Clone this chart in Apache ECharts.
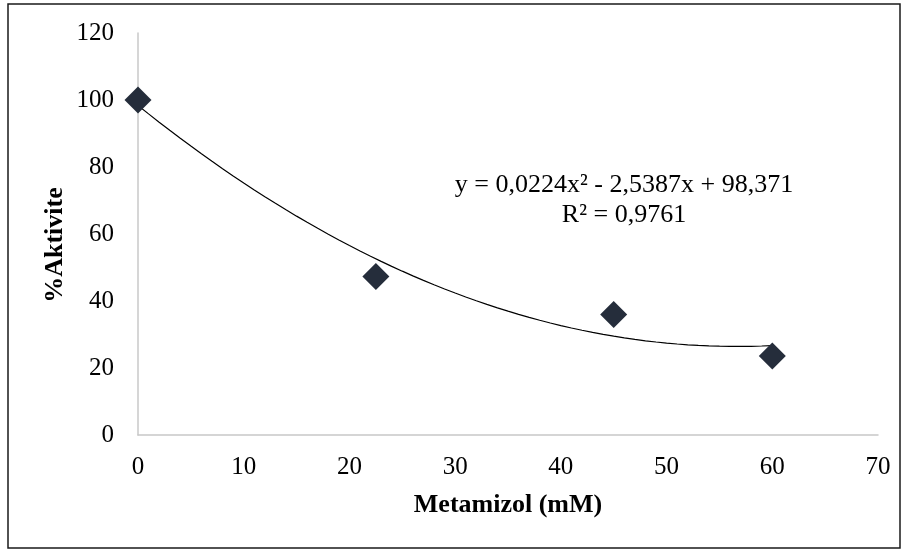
<!DOCTYPE html>
<html>
<head>
<meta charset="utf-8">
<script src="https://cdn.jsdelivr.net/npm/echarts@6/dist/echarts.min.js"></script>
<style>html,body{margin:0;padding:0;background:#fff}#c{width:901px;height:550px}</style>
</head>
<body>
<div id="c"></div>
<script>
const concentrations = [0, 22.5, 45, 60];
const activity = [100, 47.3, 36.0, 23.6];
const trendCoefficients = [0.0224, -2.5387, 98.371]; // a x^2 + b x + c, as printed on the chart
const trendRange = [0, 60];
const equationText = 'y = 0,0224x² - 2,5387x + 98,371';
const r2Text = 'R² = 0,9761';
const xTicks = [0, 10, 20, 30, 40, 50, 60, 70];
const yTicks = [0, 20, 40, 60, 80, 100, 120];

const scatterData = concentrations.map((x, i) => [x, activity[i]]);
const trendData = [];
for (let x = trendRange[0]; x <= trendRange[1]; x += 1) {
  const [a, b, c] = trendCoefficients;
  trendData.push([x, a * x * x + b * x + c]);
}

const font = '"Liberation Serif", "Times New Roman", serif';
const chart = echarts.init(document.getElementById('c'), null, {renderer: 'canvas'});
chart.setOption({
  animation: false,
  backgroundColor: '#fff',
  grid: {left: 138, right: 23, top: 33, bottom: 115, containLabel: false},
  xAxis: {
    type: 'value', min: xTicks[0], max: xTicks[xTicks.length - 1], interval: 10,
    name: 'Metamizol (mM)', nameLocation: 'middle', nameGap: 57,
    nameTextStyle: {fontFamily: font, fontSize: 26, fontWeight: 'bold', color: '#000'},
    axisLine: {show: true, lineStyle: {color: '#c8c8c8', width: 1.5}},
    axisTick: {show: false},
    splitLine: {show: false},
    axisLabel: {fontFamily: font, fontSize: 25, color: '#000', margin: 20}
  },
  yAxis: {
    type: 'value', min: yTicks[0], max: yTicks[yTicks.length - 1], interval: 20,
    axisLine: {show: true, lineStyle: {color: '#c8c8c8', width: 1.5}},
    axisTick: {show: false},
    splitLine: {show: false},
    axisLabel: {fontFamily: font, fontSize: 25, color: '#000', margin: 24}
  },
  graphic: [
    {type: 'rect', shape: {x: 8, y: 4, width: 892, height: 544}, style: {fill: 'none', stroke: '#1a1a1a', lineWidth: 1.5}, silent: true, z: 100},
    {type: 'text', x: 55, y: 245, rotation: Math.PI / 2,
      style: {text: '%Aktivite', font: 'bold 26px ' + font, fill: '#000', align: 'center', verticalAlign: 'middle'}},
    {type: 'text', x: 624, y: 185,
      style: {text: equationText, font: '26px ' + font, fill: '#000', align: 'center', verticalAlign: 'middle'}},
    {type: 'text', x: 624, y: 215,
      style: {text: r2Text, font: '26px ' + font, fill: '#000', align: 'center', verticalAlign: 'middle'}}
  ],
  series: [
    {
      type: 'line', data: trendData, showSymbol: false, smooth: false,
      lineStyle: {color: '#000', width: 1.2}, z: 2
    },
    {
      type: 'scatter', data: scatterData, symbol: 'diamond', symbolSize: [27, 27],
      itemStyle: {color: '#252d3b', opacity: 1}, z: 3
    }
  ]
});
</script>
</body>
</html>
